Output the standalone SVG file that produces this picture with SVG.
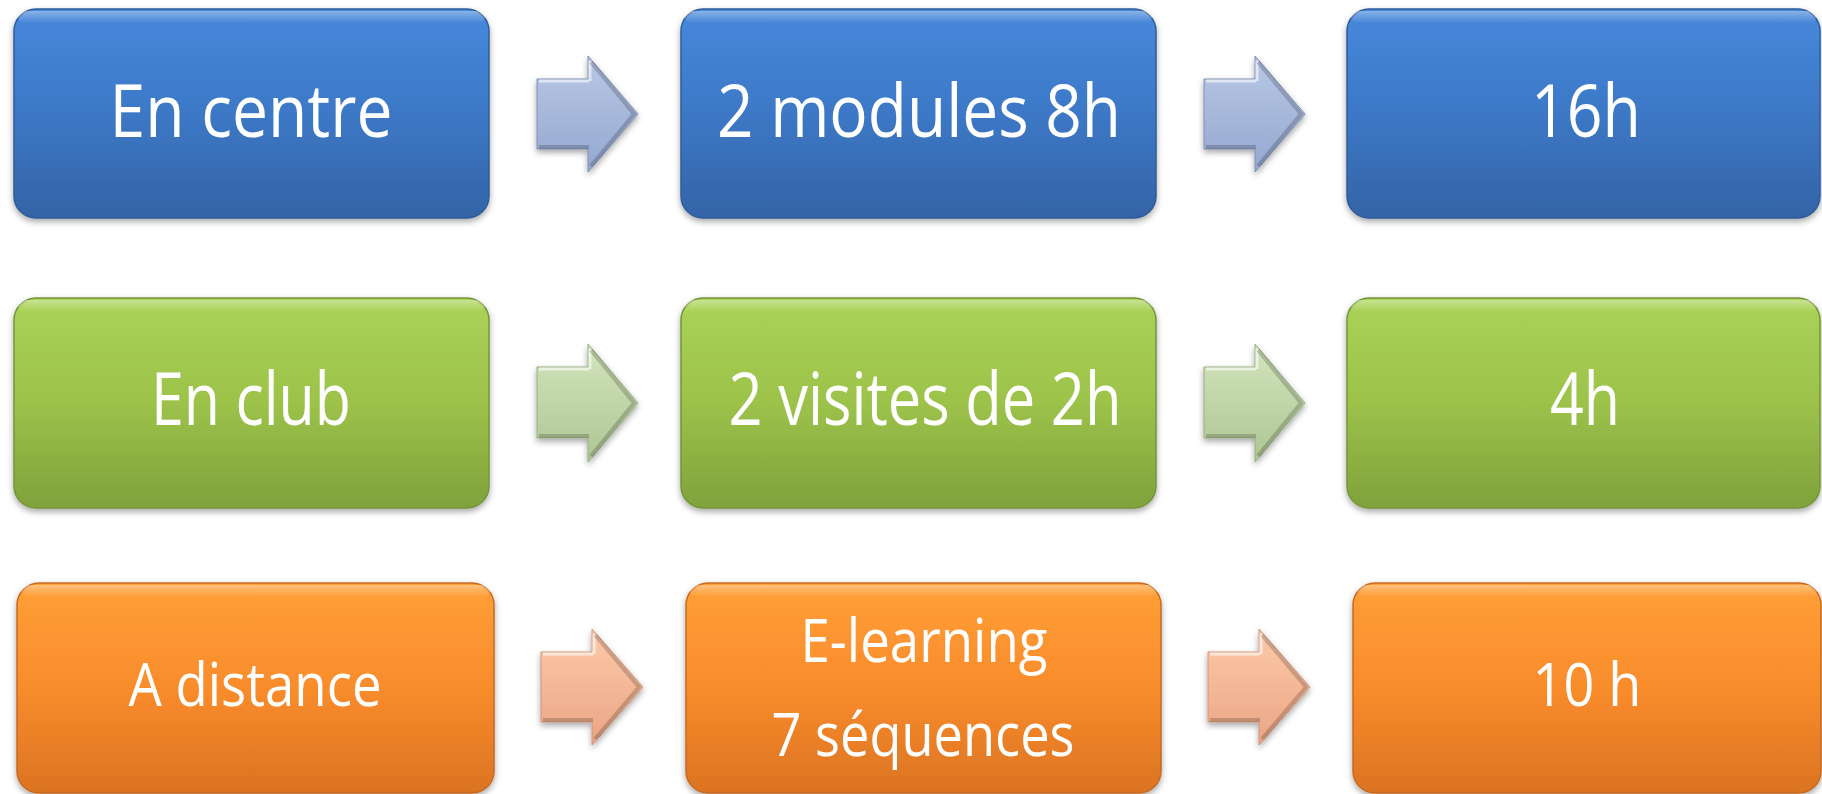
<svg xmlns="http://www.w3.org/2000/svg" width="1822" height="794" viewBox="0 0 1822 794">
  <defs>
    <linearGradient id="gBlue" x1="0" y1="0" x2="0" y2="1">
      <stop offset="0" stop-color="#4789dc"/>
      <stop offset="0.5" stop-color="#3c78c6"/>
      <stop offset="1" stop-color="#3464a6"/>
    </linearGradient>
    <linearGradient id="gGreen" x1="0" y1="0" x2="0" y2="1">
      <stop offset="0" stop-color="#abd357"/>
      <stop offset="0.5" stop-color="#9cc24a"/>
      <stop offset="1" stop-color="#7fa23b"/>
    </linearGradient>
    <linearGradient id="gOrange" x1="0" y1="0" x2="0" y2="1">
      <stop offset="0" stop-color="#ff9f36"/>
      <stop offset="0.5" stop-color="#f98c2c"/>
      <stop offset="1" stop-color="#db7322"/>
    </linearGradient>
    <linearGradient id="aBlue" x1="0" y1="0" x2="0" y2="1">
      <stop offset="0" stop-color="#b8c8e6"/>
      <stop offset="1" stop-color="#94a7cf"/>
    </linearGradient>
    <linearGradient id="aGreen" x1="0" y1="0" x2="0" y2="1">
      <stop offset="0" stop-color="#d3e5bc"/>
      <stop offset="1" stop-color="#adc594"/>
    </linearGradient>
    <linearGradient id="aOrange" x1="0" y1="0" x2="0" y2="1">
      <stop offset="0" stop-color="#fdcaa9"/>
      <stop offset="1" stop-color="#eaa585"/>
    </linearGradient>
    <linearGradient id="hl" x1="0" y1="0" x2="0" y2="1">
      <stop offset="0" stop-color="#ffffff" stop-opacity="0.35"/>
      <stop offset="1" stop-color="#ffffff" stop-opacity="0"/>
    </linearGradient>
    <filter id="sh" x="-5%" y="-5%" width="110%" height="120%">
      <feDropShadow dx="0" dy="3" stdDeviation="3" flood-color="#000" flood-opacity="0.35"/>
    </filter>
  </defs>
  <style>
    .lbl { font-family: "Open Sans", "Noto Sans", "Liberation Sans", sans-serif; fill: #ffffff; text-anchor: middle; }
    .big { font-size: 73px; }
    .small { font-size: 61px; }
    .bx { stroke-width: 1.5; }
    .blue { fill: url(#gBlue); stroke: #2f5d99; }
    .green { fill: url(#gGreen); stroke: #74953a; }
    .orange { fill: url(#gOrange); stroke: #c86a20; }
    .hl { fill: url(#hl); }
    .arB { fill: url(#aBlue); stroke: #7f8fb5; stroke-width: 1; }
    .arG { fill: url(#aGreen); stroke: #98ad80; stroke-width: 1; }
    .arO { fill: url(#aOrange); stroke: #d09578; stroke-width: 1; }
    .bvL { fill: none; stroke: #ffffff; stroke-opacity: 0.6; stroke-width: 3; }
    .bvD { fill: none; stroke: #000000; stroke-opacity: 0.18; stroke-width: 4; }
  </style>

  <g id="connectors">
    <g filter="url(#sh)">
      <path class="arB" d="M537,79 H588 V56 L638,114 L588,172 V149 H537 Z"/>
      <path class="arB" d="M1204,79 H1255 V56 L1305,114 L1255,172 V149 H1204 Z"/>
      <path class="arG" d="M537,367 H588 V344 L638,403 L588,462 V438 H537 Z"/>
      <path class="arG" d="M1204,367 H1255 V344 L1305,403 L1255,462 V438 H1204 Z"/>
      <path class="arO" d="M541,652 H592 V629 L643,687 L592,745 V722 H541 Z"/>
      <path class="arO" d="M1208,652 H1259 V629 L1310,687 L1259,745 V722 H1208 Z"/>
    </g>
    <path class="bvL" d="M539,81 H589 M590,61 V81"/>
    <path class="bvD" d="M591,62 L634,114 L591,166 M539,147 H589"/>
    <path class="bvL" d="M1206,81 H1256 M1257,61 V81"/>
    <path class="bvD" d="M1258,62 L1301,114 L1258,166 M1206,147 H1256"/>
    <path class="bvL" d="M539,369 H589 M590,349 V369"/>
    <path class="bvD" d="M591,350 L634,403 L591,456 M539,436 H589"/>
    <path class="bvL" d="M1206,369 H1256 M1257,349 V369"/>
    <path class="bvD" d="M1258,350 L1301,403 L1258,456 M1206,436 H1256"/>
    <path class="bvL" d="M543,654 H593 M594,634 V654"/>
    <path class="bvD" d="M595,635 L639,687 L595,739 M543,720 H593"/>
    <path class="bvL" d="M1210,654 H1260 M1261,634 V654"/>
    <path class="bvD" d="M1262,635 L1306,687 L1262,739 M1210,720 H1260"/>
  </g>

  <g id="n-en-centre">
    <rect class="bx blue" x="14" y="9" width="475" height="209" rx="22" filter="url(#sh)"/>
    <rect class="hl" x="18" y="11" width="467" height="12" rx="6"/>
    <text class="lbl big" x="251" y="137" textLength="283" lengthAdjust="spacingAndGlyphs">En centre</text>
  </g>
  <g id="n-2-modules">
    <rect class="bx blue" x="681" y="9" width="475" height="209" rx="22" filter="url(#sh)"/>
    <rect class="hl" x="685" y="11" width="467" height="12" rx="6"/>
    <text class="lbl big" x="919" y="137" textLength="404" lengthAdjust="spacingAndGlyphs">2 modules 8h</text>
  </g>
  <g id="n-16h">
    <rect class="bx blue" x="1347" y="9" width="473" height="209" rx="22" filter="url(#sh)"/>
    <rect class="hl" x="1351" y="11" width="465" height="12" rx="6"/>
    <text class="lbl big" x="1586" y="137" textLength="110" lengthAdjust="spacingAndGlyphs">16h</text>
  </g>

  <g id="n-en-club">
    <rect class="bx green" x="14" y="298" width="475" height="210" rx="22" filter="url(#sh)"/>
    <rect class="hl" x="18" y="300" width="467" height="12" rx="6"/>
    <text class="lbl big" x="251" y="425" textLength="200" lengthAdjust="spacingAndGlyphs">En club</text>
  </g>
  <g id="n-2-visites">
    <rect class="bx green" x="681" y="298" width="475" height="210" rx="22" filter="url(#sh)"/>
    <rect class="hl" x="685" y="300" width="467" height="12" rx="6"/>
    <text class="lbl big" x="925" y="425" textLength="393" lengthAdjust="spacingAndGlyphs">2 visites de 2h</text>
  </g>
  <g id="n-4h">
    <rect class="bx green" x="1347" y="298" width="473" height="210" rx="22" filter="url(#sh)"/>
    <rect class="hl" x="1351" y="300" width="465" height="12" rx="6"/>
    <text class="lbl big" x="1585" y="425" textLength="70" lengthAdjust="spacingAndGlyphs">4h</text>
  </g>

  <g id="n-a-distance">
    <rect class="bx orange" x="17" y="583" width="477" height="210" rx="22" filter="url(#sh)"/>
    <rect class="hl" x="21" y="585" width="469" height="12" rx="6"/>
    <text class="lbl small" x="255" y="706" textLength="253" lengthAdjust="spacingAndGlyphs">A distance</text>
  </g>
  <g id="n-elearning">
    <rect class="bx orange" x="686" y="583" width="475" height="210" rx="22" filter="url(#sh)"/>
    <rect class="hl" x="690" y="585" width="467" height="12" rx="6"/>
    <text class="lbl small" x="924" y="662" textLength="247" lengthAdjust="spacingAndGlyphs">E-learning</text>
    <text class="lbl small" x="923" y="756" textLength="303" lengthAdjust="spacingAndGlyphs">7 séquences</text>
  </g>
  <g id="n-10h">
    <rect class="bx orange" x="1353" y="583" width="468" height="210" rx="22" filter="url(#sh)"/>
    <rect class="hl" x="1357" y="585" width="460" height="12" rx="6"/>
    <text class="lbl small" x="1587" y="706" textLength="109" lengthAdjust="spacingAndGlyphs">10 h</text>
  </g>
</svg>
